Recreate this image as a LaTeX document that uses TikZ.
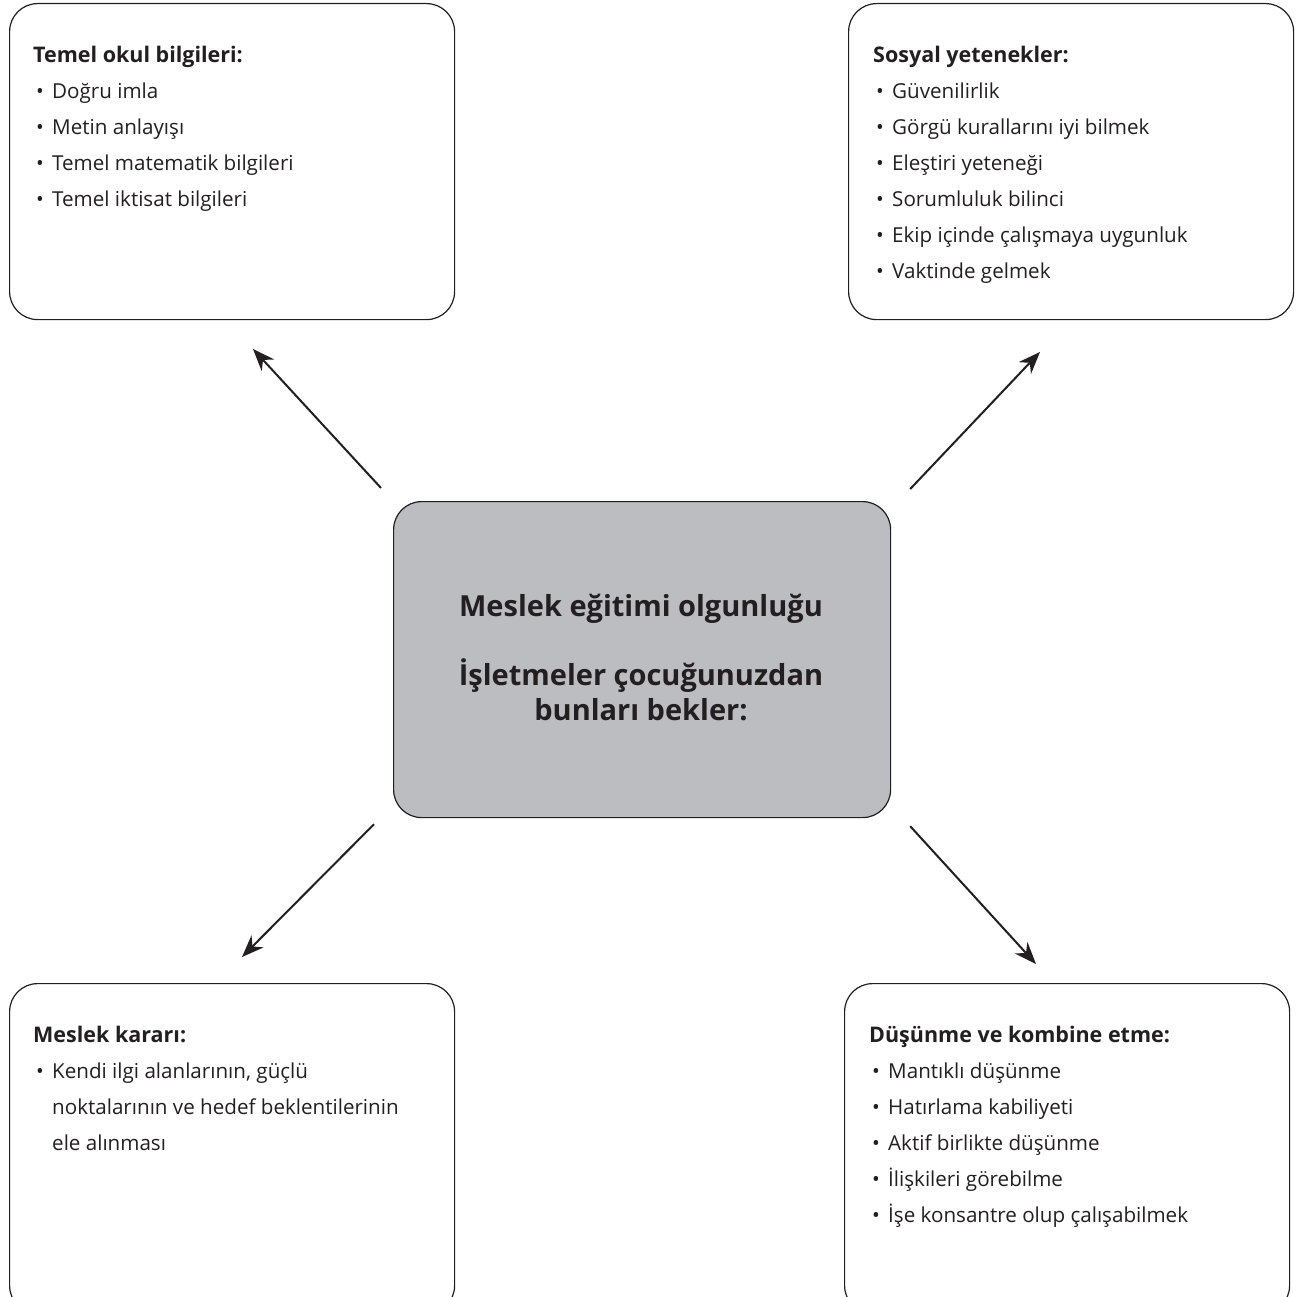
\documentclass[tikz,border=0pt]{standalone}
\usepackage{fontspec}
\setmainfont{Open Sans}
\usetikzlibrary{arrows.meta}
\definecolor{kutugri}{HTML}{BCBDC0}
\definecolor{yazi}{HTML}{231F20}

\newcommand{\madde}[1]{\makebox[19pt][l]{\hspace{3pt}•}#1}

\begin{document}
\begin{tikzpicture}[x=1pt,y=-1pt]
\tikzset{
  kutu/.style={draw=yazi, line width=1.2pt, rounded corners=28pt, minimum width=445pt, minimum height=316pt, inner sep=0pt, anchor=north west},
  baslik/.style={anchor=base west, inner sep=0pt, text=yazi, font=\fontsize{21.5}{25}\selectfont\bfseries},
  satir/.style={anchor=base west, inner sep=0pt, text=yazi, font=\fontsize{20.6}{25}\selectfont},
  orta/.style={anchor=base, inner sep=0pt, text=yazi, font=\fontsize{29}{34}\selectfont\bfseries},
  ok/.style={draw=yazi, line width=2pt, -{Stealth[length=22pt,width=17pt]}}
}
\useasboundingbox (0,0) rectangle (1311,1297);
\clip (0,0) rectangle (1311,1297);

% kutular
\node[kutu] (temel) at (9,3) {};
\node[kutu] (sosyal) at (848,3) {};
\node[kutu, minimum height=330pt] (karar) at (9,983) {};
\node[kutu, minimum height=330pt] (dusunme) at (844,983) {};
\node[kutu, fill=kutugri, minimum width=497pt] (merkez) at (393,501) {};

% orta kutu
\node[orta] (merkez1) at (641,616) {Meslek eğitimi olgunluğu};
\node[orta] (merkez2) at (641,685) {İşletmeler çocuğunuzdan};
\node[orta] (merkez3) at (641,720) {bunları bekler:};

% sol ust
\node[baslik] (temelb) at (33,63) {Temel okul bilgileri:};
\foreach \m [count=\i] in {Doğru imla, Metin anlayışı, Temel matematik bilgileri, Temel iktisat bilgileri}
  \node[satir] (temel\i) at (33,63+36*\i) {\madde{\m}};

% sag ust
\node[baslik] (sosyalb) at (873,63) {Sosyal yetenekler:};
\foreach \m [count=\i] in {Güvenilirlik, Görgü kurallarını iyi bilmek, Eleştiri yeteneği, Sorumluluk bilinci, Ekip içinde çalışmaya uygunluk, Vaktinde gelmek}
  \node[satir] (sosyal\i) at (873,63+36*\i) {\madde{\m}};

% sol alt
\node[baslik] (kararb) at (33,1042) {Meslek kararı:};
\node[satir] (karar1) at (33,1078) {\madde{Kendi ilgi alanlarının, güçlü}};
\node[satir] (karar2) at (33,1114) {\hspace*{19pt}noktalarının ve hedef beklentilerinin};
\node[satir] (karar3) at (33,1150) {\hspace*{19pt}ele alınması};

% sag alt
\node[baslik] (dusunmeb) at (869,1042) {Düşünme ve kombine etme:};
\foreach \m [count=\i] in {Mantıklı düşünme, Hatırlama kabiliyeti, Aktif birlikte düşünme, İlişkileri görebilme, İşe konsantre olup çalışabilmek}
  \node[satir] (dusunme\i) at (869,1042+36*\i) {\madde{\m}};

% oklar
\coordinate (temelok) at (253,349);
\coordinate (sosyalok) at (1040,352);
\coordinate (kararok) at (242,957);
\coordinate (dusunmeok) at (1036,964);
\draw[ok] ([shift={(-12,-13)}]merkez.north west) -- (temelok);
\draw[ok] ([shift={(19,-12)}]merkez.north east) -- (sosyalok);
\draw[ok] ([shift={(-19,6)}]merkez.south west) -- (kararok);
\draw[ok] ([shift={(19,8)}]merkez.south east) -- (dusunmeok);
\end{tikzpicture}
\end{document}
